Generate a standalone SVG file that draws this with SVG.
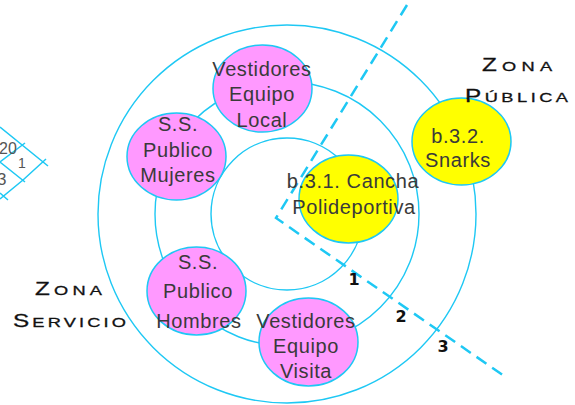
<svg xmlns="http://www.w3.org/2000/svg" width="575" height="405" viewBox="0 0 575 405">
<style>
.ring{fill:none;stroke:#1ec8f4;stroke-width:1.4}
.grid{fill:none;stroke:#1ec8f4;stroke-width:1.5}
.dash{fill:none;stroke:#1ec8f4;stroke-width:2.5;stroke-dasharray:12 7}
.pink{fill:#ff99ff;stroke:#1ec8f4;stroke-width:1.5}
.yellow{fill:#ffff00;stroke:#1ec8f4;stroke-width:1.5}
.lbl{font-family:"Liberation Sans",Arial,sans-serif;font-size:20px;fill:#3a3a3a;text-anchor:middle;letter-spacing:0.6px}
.zone{font-family:"Liberation Sans",Arial,sans-serif;fill:#111;stroke:#111;stroke-width:0.3}
.num{font-family:"DejaVu Sans","Liberation Sans",sans-serif;font-weight:bold;font-size:16px;fill:#111;text-anchor:middle}
.frag{font-family:"Liberation Sans",Arial,sans-serif;fill:#555}
</style>
<rect width="575" height="405" fill="#fff"/>
<g id="fragment">
<path class="grid" d="M0,127 L48,166 M0,162 L25,143 M0,162 L25,182 M46,159 L23,180 L0,199 M0,193 L8,200"/>
<text class="frag" x="-1" y="154" font-size="16">20</text>
<text class="frag" x="18" y="168" font-size="14">1</text>
<text class="frag" x="-3" y="185" font-size="17">3</text>
</g>
<g id="rings">
<circle class="ring" cx="287" cy="214" r="189"/>
<circle class="ring" cx="287" cy="214" r="132"/>
<circle class="ring" cx="287" cy="214" r="76"/>
</g>
<g id="connectors">
<path class="dash" d="M407,5 L276,218 L507,378"/>
</g>
<g id="vestidores-local">
<ellipse class="pink" cx="262.5" cy="88.5" rx="49.5" ry="43.5"/>
<text class="lbl" x="262" y="76">Vestidores</text>
<text class="lbl" x="262" y="101">Equipo</text>
<text class="lbl" x="262" y="127">Local</text>
</g>
<g id="ss-mujeres">
<ellipse class="pink" cx="176.5" cy="156.5" rx="49.5" ry="43.5"/>
<text class="lbl" x="178" y="131">S.S.</text>
<text class="lbl" x="178" y="157">Publico</text>
<text class="lbl" x="178" y="182">Mujeres</text>
</g>
<g id="ss-hombres">
<ellipse class="pink" cx="196.5" cy="291" rx="49.5" ry="44"/>
<text class="lbl" x="198" y="269">S.S.</text>
<text class="lbl" x="198" y="298">Publico</text>
<text class="lbl" x="199" y="328">Hombres</text>
</g>
<g id="vestidores-visita">
<ellipse class="pink" cx="308.5" cy="342" rx="49.5" ry="44"/>
<text class="lbl" x="306" y="328">Vestidores</text>
<text class="lbl" x="306" y="353">Equipo</text>
<text class="lbl" x="306" y="378">Visita</text>
</g>
<g id="cancha">
<ellipse class="yellow" cx="348.5" cy="199" rx="49.5" ry="44"/>
<text class="lbl" x="353" y="188">b.3.1. Cancha</text>
<text class="lbl" x="354" y="214">Polideportiva</text>
</g>
<g id="snarks">
<ellipse class="yellow" cx="461.5" cy="141.5" rx="49.5" ry="43.5"/>
<text class="lbl" x="458" y="143">b.3.2.</text>
<text class="lbl" x="458" y="167">Snarks</text>
</g>
<g id="ring-numbers">
<text class="num" x="354" y="285">1</text>
<text class="num" x="401" y="322">2</text>
<text class="num" x="443" y="352">3</text>
</g>
<g id="zona-publica">
<text class="zone" transform="translate(482,71) scale(1.35,1)" textLength="51.9" lengthAdjust="spacing"><tspan font-size="18">Z</tspan><tspan font-size="13.5">ONA</tspan></text>
<text class="zone" transform="translate(465,102) scale(1.35,1)" textLength="76.3" lengthAdjust="spacing"><tspan font-size="18">P</tspan><tspan font-size="13.5">ÚBLICA</tspan></text>
</g>
<g id="zona-servicio">
<text class="zone" transform="translate(35,295) scale(1.35,1)" textLength="49.6" lengthAdjust="spacing"><tspan font-size="18">Z</tspan><tspan font-size="13.5">ONA</tspan></text>
<text class="zone" transform="translate(13,327) scale(1.35,1)" textLength="83.7" lengthAdjust="spacing"><tspan font-size="18">S</tspan><tspan font-size="13.5">ERVICIO</tspan></text>
</g>
</svg>
